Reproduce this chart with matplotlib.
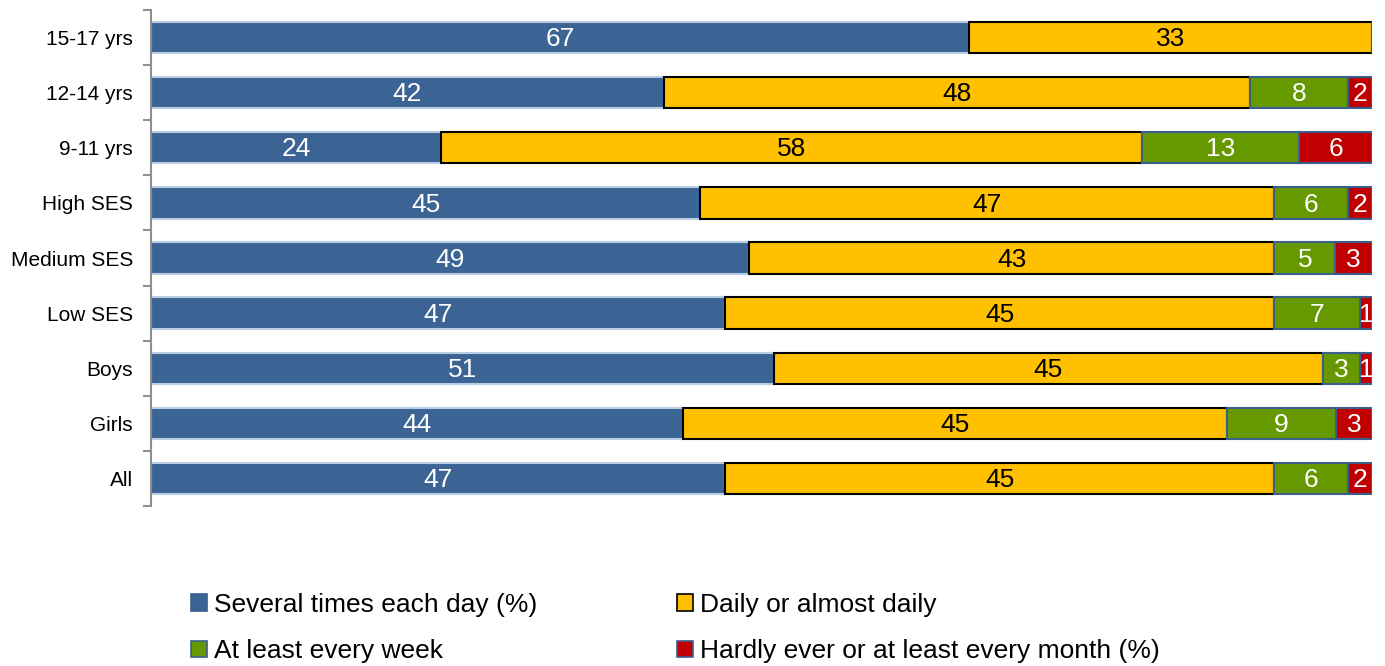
import numpy as np
import matplotlib
matplotlib.use("Agg")
import matplotlib.pyplot as plt
from matplotlib.patches import Patch
from matplotlib.ticker import FixedLocator

plt.rcParams['font.family'] = ['Liberation Sans', 'DejaVu Sans']

categories = ["15-17 yrs", "12-14 yrs", "9-11 yrs", "High SES", "Medium SES",
              "Low SES", "Boys", "Girls", "All"]
several_daily = [67, 42, 24, 45, 49, 47, 51, 44, 47]
daily = [33, 48, 58, 47, 43, 45, 45, 45, 45]
weekly = [0, 8, 13, 6, 5, 7, 3, 9, 6]
monthly = [0, 2, 6, 2, 3, 1, 1, 3, 2]
series_names = ["Several times each day (%)", "Daily or almost daily",
                "At least every week", "Hardly ever or at least every month (%)"]

colors = ["#3B6494", "#FFC000", "#669900", "#C00000"]
edges = ["#B9CDE5", "#000000", "#3A5F8B", "#3A5F8B"]
text_colors = ["white", "black", "white", "white"]

fig = plt.figure(figsize=(13.85, 6.66), dpi=100)
ax = fig.add_axes([151 / 1385, 1 - 506 / 666, 1221 / 1385, 496 / 666])

data = np.array([several_daily, daily, weekly, monthly], dtype=float)
totals = data.sum(axis=0)
shares = data / totals * 100  # 100% stacked
y = np.arange(len(categories))
left = np.zeros(len(categories))

for i in range(4):
    bars = ax.barh(y, shares[i], left=left, height=0.57, color=colors[i],
                   edgecolor=edges[i], linewidth=1.5, label=series_names[i])
    for j, b in enumerate(bars):
        if data[i, j] > 0:
            ax.text(left[j] + shares[i, j] / 2, y[j] + 0.03, f"{int(data[i, j])}",
                    ha="center", va="center", color=text_colors[i], fontsize=19)
    left += shares[i]

ax.set_xlim(0, 100)
ax.set_ylim(len(categories) - 0.5, -0.5)
ax.set_yticks(y)
ax.set_yticklabels(categories, fontsize=15)
ax.tick_params(axis="y", which="major", length=0, pad=13)
ax.yaxis.set_minor_locator(FixedLocator(np.arange(-0.5, len(categories), 1)))
ax.tick_params(axis="y", which="minor", length=6, color="#909090", width=1.5)
ax.set_xticks([])
for s in ["top", "right", "bottom"]:
    ax.spines[s].set_visible(False)
ax.spines["left"].set_color("#909090")
ax.spines["left"].set_linewidth(1.5)

handles = [Patch(facecolor=colors[i], edgecolor=edges[i] if i != 0 else "#3A5F8B",
                 linewidth=1.2) for i in range(4)]
order = [0, 2, 1, 3]
fig.legend([handles[k] for k in order], [series_names[k] for k in order],
           loc="center left", bbox_to_anchor=(167 / 1385, 1 - 628 / 666),
           ncol=2, frameon=False, fontsize=19, handlelength=0.6, handleheight=0.6,
           handletextpad=0.28, columnspacing=5.3, labelspacing=0.85)

fig.savefig("out.png", dpi=100)
